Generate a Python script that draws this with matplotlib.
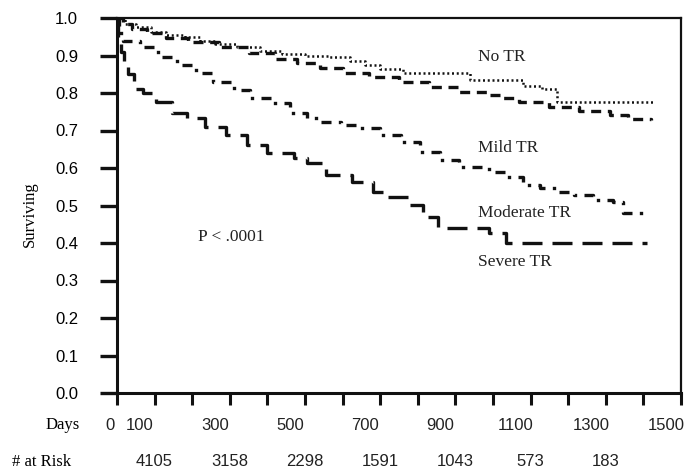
import numpy as np
import matplotlib
matplotlib.use("Agg")
import matplotlib.pyplot as plt
from matplotlib.transforms import blended_transform_factory

# Kaplan-Meier step data (days, survival)
days_no = [0, 20, 50, 90, 130, 180, 220, 260, 320, 380, 440, 500, 560, 620, 660, 700, 760,
           940, 1080, 1130, 1170, 1430]
surv_no = [1.0, 0.985, 0.975, 0.963, 0.955, 0.950, 0.940, 0.932, 0.922, 0.913, 0.905, 0.898,
           0.896, 0.886, 0.875, 0.865, 0.853, 0.835, 0.820, 0.812, 0.776, 0.776]

days_mild = [0, 15, 40, 80, 130, 190, 270, 350, 420, 480, 540, 600, 670, 750, 830, 910,
             990, 1020, 1070, 1150, 1230, 1310, 1360, 1420]
surv_mild = [1.0, 0.985, 0.972, 0.960, 0.947, 0.936, 0.923, 0.907, 0.890, 0.880, 0.866,
             0.853, 0.843, 0.829, 0.816, 0.803, 0.795, 0.787, 0.776, 0.763, 0.752, 0.741,
             0.731, 0.728]

days_mod = [0, 5, 15, 60, 110, 160, 210, 255, 310, 355, 415, 460, 505, 540, 595, 645, 700,
            755, 805, 860, 910, 990, 1035, 1080, 1125, 1170, 1215, 1265, 1320, 1345, 1400]
surv_mod = [1.0, 0.960, 0.940, 0.923, 0.896, 0.875, 0.853, 0.829, 0.808, 0.787, 0.773,
            0.747, 0.733, 0.723, 0.715, 0.707, 0.688, 0.669, 0.643, 0.621, 0.603, 0.589,
            0.576, 0.555, 0.547, 0.536, 0.528, 0.515, 0.509, 0.480, 0.480]

days_sev = [0, 3, 10, 18, 28, 45, 70, 105, 145, 185, 235, 290, 345, 400, 470, 505, 555,
            625, 680, 710, 775, 815, 855, 990, 1035, 1410]
surv_sev = [1.0, 0.940, 0.910, 0.885, 0.850, 0.810, 0.800, 0.776, 0.747, 0.733, 0.709,
            0.688, 0.661, 0.640, 0.627, 0.613, 0.581, 0.563, 0.536, 0.523, 0.501, 0.469,
            0.440, 0.427, 0.400, 0.400]

x_ticks = list(range(0, 1600, 100))
x_labels = ["0", "100", "300", "500", "700", "900", "1100", "1300", "1500"]
risk_days = [100, 300, 500, 700, 900, 1100, 1300]
at_risk = ["4105", "3158", "2298", "1591", "1043", "573", "183"]

serif = ["Liberation Serif", "DejaVu Serif"]
sans = ["Liberation Sans", "DejaVu Sans"]

fig = plt.figure(figsize=(6.86, 4.72), dpi=100)
ax = fig.add_axes([117 / 686, 79 / 472, 564 / 686, 375 / 472])

ax.step(days_no, surv_no, where="post", color="#111", lw=1.8, linestyle=(0, (0.8, 1.1)))
ax.step(days_mild, surv_mild, where="post", color="#111", lw=2.4, linestyle=(0, (3.0, 2.0)))
ax.step(days_mod, surv_mod, where="post", color="#111", lw=2.4,
        linestyle=(0, (3.0, 2.2, 1.0, 2.2)))
ax.step(days_sev, surv_sev, where="post", color="#111", lw=2.4, linestyle=(0, (6.0, 3.0)))

ax.set_xlim(0, 1500)
ax.set_ylim(0, 1.0)
ax.set_yticks(np.arange(0, 1.01, 0.1))
ax.set_yticklabels([f"{v:.1f}" for v in np.arange(0, 1.01, 0.1)], fontsize=12,
                   family=sans)
ax.set_xticks(x_ticks)
ax.set_xticklabels([])
ax.tick_params(axis="y", direction="out", length=12, width=2.4, pad=16, color="#111")
ax.tick_params(axis="x", direction="out", length=8.5, width=2.2, color="#111")

for side in ["left", "bottom"]:
    ax.spines[side].set_linewidth(2.2)
for side in ["top", "right"]:
    ax.spines[side].set_linewidth(1.6)
for s in ax.spines.values():
    s.set_color("#111")

# x tick labels sit a little left of their ticks in the original
trans = blended_transform_factory(ax.transData, fig.transFigure)
for lab in x_labels:
    v = int(lab)
    pos = -19 if v == 0 else v - 40
    ax.text(pos, 1 - 425 / 472, lab, transform=trans, ha="center", va="center",
            fontsize=12, family=sans, color="#222")
for d, n in zip(risk_days, at_risk):
    ax.text(d, 1 - 462 / 472, n, transform=trans, ha="center", va="center",
            fontsize=12, family=sans, color="#222")

fig.text(80 / 686, 1 - 425 / 472, "Days", ha="right", va="center", fontsize=12, family=serif)
fig.text(12 / 686, 1 - 462 / 472, "# at Risk", ha="left", va="center", fontsize=12,
         family=serif)
fig.text(30 / 686, 1 - 214 / 472, "Surviving", ha="center", va="center", rotation=90,
         fontsize=12, family=serif)

def label(x, y, s):
    fig.text(x / 686, 1 - y / 472, s, ha="left", va="center", fontsize=12.5, family=serif,
             color="#222")

label(478, 57, "No TR")
label(478, 148, "Mild TR")
label(478, 213, "Moderate TR")
label(478, 262, "Severe TR")
label(198, 237, "P < .0001")

fig.savefig("out.png", dpi=100)
